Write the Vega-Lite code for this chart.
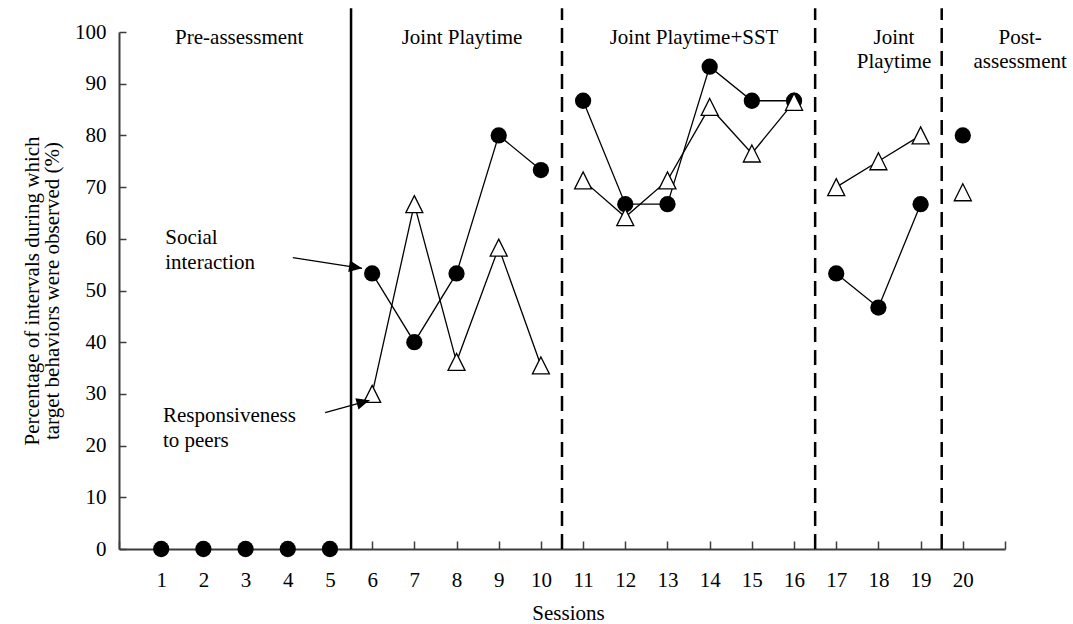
{
  "$schema": "https://vega.github.io/schema/vega-lite/v6.json",
  "width": 886,
  "height": 517,
  "autosize": "none",
  "padding": {"left": 119, "top": 32, "right": 68, "bottom": 75},
  "background": "white",
  "config": {
    "view": {"stroke": null},
    "font": "Liberation Serif",
    "axis": {"grid": false, "labelFont": "Liberation Serif", "titleFont": "Liberation Serif", "labelFontSize": 21, "titleFontSize": 21, "titleFontWeight": "normal", "labelColor": "black", "titleColor": "black", "domainColor": "#3c3c3c", "domainWidth": 2, "tickColor": "#3c3c3c", "tickWidth": 1.5}
  },
  "datasets": {
    "obs": [
      {"session": 1, "value": 0, "series": "Social interaction", "phase": "A1"},
      {"session": 2, "value": 0, "series": "Social interaction", "phase": "A1"},
      {"session": 3, "value": 0, "series": "Social interaction", "phase": "A1"},
      {"session": 4, "value": 0, "series": "Social interaction", "phase": "A1"},
      {"session": 5, "value": 0, "series": "Social interaction", "phase": "A1"},
      {"session": 6, "value": 53.3, "series": "Social interaction", "phase": "B1"},
      {"session": 7, "value": 40, "series": "Social interaction", "phase": "B1"},
      {"session": 8, "value": 53.3, "series": "Social interaction", "phase": "B1"},
      {"session": 9, "value": 80, "series": "Social interaction", "phase": "B1"},
      {"session": 10, "value": 73.3, "series": "Social interaction", "phase": "B1"},
      {"session": 11, "value": 86.7, "series": "Social interaction", "phase": "C"},
      {"session": 12, "value": 66.7, "series": "Social interaction", "phase": "C"},
      {"session": 13, "value": 66.7, "series": "Social interaction", "phase": "C"},
      {"session": 14, "value": 93.3, "series": "Social interaction", "phase": "C"},
      {"session": 15, "value": 86.7, "series": "Social interaction", "phase": "C"},
      {"session": 16, "value": 86.7, "series": "Social interaction", "phase": "C"},
      {"session": 17, "value": 53.3, "series": "Social interaction", "phase": "B2"},
      {"session": 18, "value": 46.7, "series": "Social interaction", "phase": "B2"},
      {"session": 19, "value": 66.7, "series": "Social interaction", "phase": "B2"},
      {"session": 20, "value": 80, "series": "Social interaction", "phase": "A2"},
      {"session": 6, "value": 30, "series": "Responsiveness to peers", "phase": "B1"},
      {"session": 7, "value": 66.7, "series": "Responsiveness to peers", "phase": "B1"},
      {"session": 8, "value": 36.2, "series": "Responsiveness to peers", "phase": "B1"},
      {"session": 9, "value": 58.3, "series": "Responsiveness to peers", "phase": "B1"},
      {"session": 10, "value": 35.5, "series": "Responsiveness to peers", "phase": "B1"},
      {"session": 11, "value": 71.3, "series": "Responsiveness to peers", "phase": "C"},
      {"session": 12, "value": 64.2, "series": "Responsiveness to peers", "phase": "C"},
      {"session": 13, "value": 71.3, "series": "Responsiveness to peers", "phase": "C"},
      {"session": 14, "value": 85.5, "series": "Responsiveness to peers", "phase": "C"},
      {"session": 15, "value": 76.5, "series": "Responsiveness to peers", "phase": "C"},
      {"session": 16, "value": 86.5, "series": "Responsiveness to peers", "phase": "C"},
      {"session": 17, "value": 70, "series": "Responsiveness to peers", "phase": "B2"},
      {"session": 18, "value": 75, "series": "Responsiveness to peers", "phase": "B2"},
      {"session": 19, "value": 80, "series": "Responsiveness to peers", "phase": "B2"},
      {"session": 20, "value": 69, "series": "Responsiveness to peers", "phase": "A2"}
    ],
    "phaselines": [
      {"pos": 5.5, "style": "solid"},
      {"pos": 10.5, "style": "dashed"},
      {"pos": 16.5, "style": "dashed"},
      {"pos": 19.5, "style": "dashed"}
    ],
    "phaselabels": [
      {"x": 2.85, "y": 97.6, "label": ["Pre-assessment"]},
      {"x": 8.13, "y": 97.6, "label": ["Joint Playtime"]},
      {"x": 13.63, "y": 97.6, "label": ["Joint Playtime+SST"]},
      {"x": 18.37, "y": 97.6, "label": ["Joint", "Playtime"]},
      {"x": 21.36, "y": 97.6, "label": ["Post-", "assessment"]}
    ],
    "notes": [
      {"x": 1.095, "y": 58.9, "label": ["Social", "interaction"]},
      {"x": 1.04, "y": 24.5, "label": ["Responsiveness", "to peers"]}
    ],
    "arrows": [
      {"x": 4.12, "y": 56.36, "x2": 5.76, "y2": 54.29, "angle": 8.8},
      {"x": 4.886, "y": 26.38, "x2": 5.936, "y2": 28.76, "angle": 344.5}
    ]
  },
  "layer": [
    {
      "data": {"name": "phaselines"},
      "transform": [{"filter": "datum.style === 'solid'"}],
      "mark": {"type": "rule", "color": "black", "strokeWidth": 2.5},
      "encoding": {
        "x": {"field": "pos", "type": "quantitative", "scale": {"domain": [0, 21], "nice": false, "zero": false},
          "axis": {"values": [0,1,2,3,4,5,6,7,8,9,10,11,12,13,14,15,16,17,18,19,20,21], "labelExpr": "datum.value >= 1 && datum.value <= 20 ? datum.label : ''", "tickSize": -8, "labelPadding": 28, "title": "Sessions", "titleBaseline": "alphabetic", "titleY": 70, "titleX": 449, "labelFlush": false, "labelOverlap": false}},
        "y": {"datum": 0, "type": "quantitative", "scale": {"domain": [0, 100], "nice": false},
          "axis": {"values": [0,10,20,30,40,50,60,70,80,90,100], "tickSize": -7, "labelPadding": 20, "title": ["Percentage of intervals during which", "target behaviors were observed (%)"], "titleLineHeight": 20, "titleX": -77, "titleY": 258.5, "titleAngle": -90, "titleAlign": "center", "titleBaseline": "bottom", "labelFlush": false}},
        "y2": {"datum": 104.6}
      }
    },
    {
      "data": {"name": "phaselines"},
      "transform": [{"filter": "datum.style === 'dashed'"}],
      "mark": {"type": "rule", "color": "black", "strokeWidth": 2.5, "strokeDash": [15, 8]},
      "encoding": {
        "x": {"field": "pos", "type": "quantitative"},
        "y": {"datum": 0, "type": "quantitative"},
        "y2": {"datum": 104.6}
      }
    },
    {
      "data": {"name": "obs"},
      "transform": [{"filter": "datum.phase !== 'A1'"}],
      "mark": {"type": "line", "color": "black", "strokeWidth": 1.3},
      "encoding": {
        "x": {"field": "session", "type": "quantitative"},
        "y": {"field": "value", "type": "quantitative"},
        "detail": [{"field": "series"}, {"field": "phase"}],
        "order": {"field": "session"}
      }
    },
    {
      "data": {"name": "obs"},
      "transform": [{"filter": "datum.series === 'Social interaction'"}],
      "mark": {"type": "point", "shape": "circle", "filled": true, "color": "black", "size": 265, "opacity": 1},
      "encoding": {
        "x": {"field": "session", "type": "quantitative"},
        "y": {"field": "value", "type": "quantitative"}
      }
    },
    {
      "data": {"name": "obs"},
      "transform": [{"filter": "datum.series === 'Responsiveness to peers'"}],
      "mark": {"type": "point", "shape": "M 0 -1 L 1 1 L -1 1 Z", "filled": true, "fill": "white", "stroke": "black", "strokeWidth": 1.3, "size": 289, "opacity": 1, "fillOpacity": 1, "strokeOpacity": 1},
      "encoding": {
        "x": {"field": "session", "type": "quantitative"},
        "y": {"field": "value", "type": "quantitative"}
      }
    },
    {
      "data": {"name": "arrows"},
      "mark": {"type": "rule", "color": "black", "strokeWidth": 1.3},
      "encoding": {
        "x": {"field": "x", "type": "quantitative"},
        "y": {"field": "y", "type": "quantitative"},
        "x2": {"field": "x2"},
        "y2": {"field": "y2"}
      }
    },
    {
      "data": {"name": "arrows"},
      "mark": {"type": "point", "shape": "M 0 0 L -1 -0.45 L -1 0.45 Z", "filled": true, "color": "black", "size": 676, "opacity": 1},
      "encoding": {
        "x": {"field": "x2", "type": "quantitative"},
        "y": {"field": "y2", "type": "quantitative"},
        "angle": {"field": "angle", "type": "quantitative", "scale": null}
      }
    },
    {
      "data": {"name": "phaselabels"},
      "mark": {"type": "text", "font": "Liberation Serif", "fontSize": 21, "color": "black", "align": "center", "baseline": "alphabetic", "lineHeight": 23.5},
      "encoding": {
        "x": {"field": "x", "type": "quantitative"},
        "y": {"field": "y", "type": "quantitative"},
        "text": {"field": "label"}
      }
    },
    {
      "data": {"name": "notes"},
      "mark": {"type": "text", "font": "Liberation Serif", "fontSize": 21, "color": "black", "align": "left", "baseline": "alphabetic", "lineHeight": 24.5},
      "encoding": {
        "x": {"field": "x", "type": "quantitative"},
        "y": {"field": "y", "type": "quantitative"},
        "text": {"field": "label"}
      }
    }
  ]
}
